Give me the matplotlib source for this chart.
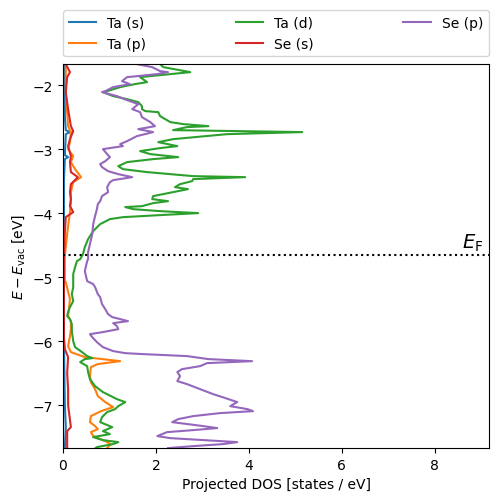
import matplotlib
matplotlib.use("Agg")
import matplotlib.pyplot as plt

# energies (eV, relative to vacuum) and projected DOS
ta_s_E = [-1.672, -2.5, -2.703, -2.734, -2.766, -3.094, -3.125, -3.156, -3.5, -4.5,
          -6.0, -7.0, -7.344, -7.672]
ta_s_dos = [0.04, 0.04, 0.06, 0.15, 0.06, 0.04, 0.11, 0.04, 0.02, 0.02,
            0.02, 0.04, 0.06, 0.04]

ta_p_E = [-1.672, -2.109, -2.641, -2.734, -2.891, -3.0, -3.109, -3.203, -3.313, -3.438,
          -3.516, -3.672, -3.828, -3.984, -4.203, -4.516, -4.672, -5.063, -5.078, -5.344,
          -5.609, -5.688, -5.813, -5.922, -6.078, -6.172, -6.25, -6.313, -6.359, -6.406,
          -6.547, -6.641, -6.75, -6.859, -6.953, -7.031, -7.094, -7.172, -7.266, -7.328,
          -7.375, -7.422, -7.484, -7.563, -7.609, -7.656, -7.672]
ta_p_dos = [0.06, 0.06, 0.11, 0.17, 0.15, 0.11, 0.22, 0.17, 0.26, 0.39,
            0.22, 0.17, 0.17, 0.15, 0.11, 0.06, 0.04, 0.04, 0.06, 0.15,
            0.11, 0.17, 0.17, 0.15, 0.11, 0.17, 0.47, 1.23, 0.75, 0.60,
            0.58, 0.60, 0.69, 0.75, 0.91, 1.08, 0.82, 0.60, 0.58, 0.69,
            0.75, 0.60, 0.65, 0.91, 1.03, 0.97, 0.95]

ta_d_E = [-1.672, -1.719, -1.797, -1.828, -1.875, -1.953, -1.984, -2.031, -2.094, -2.109,
          -2.172, -2.219, -2.266, -2.328, -2.375, -2.406, -2.422, -2.484, -2.531, -2.578,
          -2.609, -2.641, -2.656, -2.703, -2.734, -2.766, -2.844, -2.891, -2.953, -2.984,
          -3.031, -3.078, -3.125, -3.156, -3.203, -3.266, -3.313, -3.359, -3.422, -3.438,
          -3.469, -3.5, -3.547, -3.594, -3.625, -3.672, -3.734, -3.781, -3.813, -3.844,
          -3.891, -3.906, -3.938, -3.969, -4.0, -4.031, -4.063, -4.094, -4.172, -4.281,
          -4.406, -4.531, -4.641, -4.719, -4.75, -4.844, -4.953, -5.063, -5.156, -5.266,
          -5.375, -5.469, -5.547, -5.609, -5.656, -5.734, -5.844, -6.0, -6.094, -6.172,
          -6.234, -6.266, -6.281, -6.328, -6.391, -6.484, -6.594, -6.703, -6.797, -6.906,
          -6.953, -7.016, -7.063, -7.109, -7.188, -7.266, -7.344, -7.406, -7.453, -7.5,
          -7.547, -7.578, -7.609, -7.656, -7.672]
ta_d_dos = [2.09, 2.16, 2.74, 2.31, 1.66, 1.81, 1.55, 1.23, 0.95, 0.86,
            1.08, 1.38, 1.62, 1.70, 1.70, 1.77, 2.05, 2.09, 2.20, 2.31,
            2.59, 3.13, 2.67, 2.37, 5.15, 3.53, 2.37, 2.05, 2.46, 2.09,
            1.66, 1.88, 2.48, 1.94, 1.38, 1.19, 1.29, 1.81, 2.80, 3.92,
            2.80, 2.78, 2.52, 2.41, 2.69, 2.37, 1.94, 1.92, 2.26, 1.94,
            1.70, 1.34, 1.51, 2.09, 2.91, 2.09, 1.29, 1.01, 0.80, 0.65,
            0.54, 0.47, 0.43, 0.37, 0.30, 0.26, 0.22, 0.22, 0.22, 0.19,
            0.22, 0.15, 0.11, 0.09, 0.15, 0.19, 0.19, 0.22, 0.26, 0.41,
            0.52, 0.63, 0.47, 0.37, 0.52, 0.54, 0.58, 0.69, 0.86, 1.16,
            1.34, 1.19, 1.12, 0.95, 0.84, 0.80, 1.06, 0.86, 1.01, 0.65,
            0.86, 1.19, 1.08, 0.73, 0.70]

se_s_E = [-1.672, -1.797, -1.875, -2.109, -2.375, -2.641, -2.719, -2.844, -2.953, -3.109,
          -3.203, -3.359, -3.438, -3.547, -3.672, -3.781, -3.891, -3.984, -4.063, -4.297,
          -4.719, -5.5, -5.938, -6.125, -6.25, -6.5, -6.75, -7.0, -7.344, -7.406, -7.672]
se_s_dos = [0.06, 0.15, 0.09, 0.06, 0.11, 0.17, 0.22, 0.15, 0.11, 0.17,
            0.15, 0.17, 0.32, 0.17, 0.15, 0.17, 0.15, 0.22, 0.06, 0.04,
            0.02, 0.02, 0.02, 0.04, 0.11, 0.09, 0.11, 0.11, 0.17, 0.09, 0.09]

se_p_E = [-1.672, -1.719, -1.781, -1.797, -1.828, -1.875, -1.938, -1.984, -2.031, -2.094,
          -2.109, -2.172, -2.25, -2.297, -2.375, -2.422, -2.5, -2.578, -2.641, -2.688,
          -2.734, -2.797, -2.875, -2.922, -2.953, -3.0, -3.078, -3.125, -3.188, -3.234,
          -3.281, -3.344, -3.391, -3.438, -3.484, -3.516, -3.594, -3.672, -3.734, -3.813,
          -3.859, -3.938, -4.047, -4.172, -4.328, -4.484, -4.609, -4.719, -4.75, -4.906,
          -5.063, -5.109, -5.156, -5.266, -5.313, -5.422, -5.5, -5.578, -5.625, -5.656,
          -5.688, -5.719, -5.766, -5.813, -5.859, -5.891, -5.938, -6.016, -6.094, -6.156,
          -6.188, -6.203, -6.234, -6.281, -6.313, -6.344, -6.391, -6.438, -6.484, -6.547,
          -6.625, -6.672, -6.75, -6.828, -6.906, -6.953, -7.016, -7.063, -7.094, -7.125,
          -7.172, -7.219, -7.266, -7.328, -7.359, -7.391, -7.422, -7.484, -7.516, -7.578,
          -7.609, -7.641, -7.672]
se_p_dos = [1.59, 1.92, 2.09, 2.26, 2.03, 1.38, 1.27, 1.44, 1.08, 0.91,
            0.84, 1.16, 1.44, 1.62, 1.49, 1.66, 1.70, 1.88, 1.98, 1.62,
            1.94, 1.59, 1.38, 1.23, 1.29, 0.86, 0.95, 1.01, 0.91, 0.80,
            0.84, 0.97, 1.19, 1.49, 1.08, 1.01, 0.95, 0.97, 0.84, 0.80,
            0.75, 0.73, 0.69, 0.65, 0.63, 0.58, 0.54, 0.54, 0.52, 0.47,
            0.52, 0.65, 0.69, 0.75, 0.80, 0.84, 0.91, 0.97, 1.06, 1.23,
            1.40, 1.08, 1.16, 1.19, 0.86, 0.58, 0.63, 0.73, 0.86, 1.08,
            1.34, 1.72, 2.67, 3.13, 4.07, 3.10, 2.95, 2.56, 2.46, 2.52,
            2.46, 2.67, 2.95, 3.23, 3.56, 3.75, 3.60, 3.97, 4.09, 3.38,
            2.80, 2.48, 2.35, 3.02, 3.32, 2.80, 2.24, 2.03, 2.31, 3.75,
            3.45, 2.80, 2.26]

e_fermi = -4.66

fig = plt.figure(figsize=(4.98, 5.02), dpi=100)
ax = fig.add_axes([0.1265, 0.1056, 0.8555, 0.7649])

ax.plot(ta_s_dos, ta_s_E, label="Ta (s)")
ax.plot(ta_p_dos, ta_p_E, label="Ta (p)")
ax.plot(ta_d_dos, ta_d_E, label="Ta (d)")
ax.plot(se_s_dos, se_s_E, label="Se (s)")
ax.plot(se_p_dos, se_p_E, label="Se (p)")

ax.axhline(e_fermi, color="black", linestyle=":")
ax.text(9.05, e_fermi + 0.03, r"$E_\mathrm{F}$", fontsize=14, ha="right", va="bottom")

ax.set_xlim(0, 9.17)
ax.set_ylim(-7.67, -1.67)
ax.set_xlabel("Projected DOS [states / eV]")
ax.set_ylabel(r"$E - E_\mathrm{vac}$ [eV]")

ax.legend(bbox_to_anchor=(0, 1.02, 1, 0.102), loc="lower left", ncol=3,
          mode="expand", borderaxespad=0)

fig.savefig("out.png", dpi=100)
